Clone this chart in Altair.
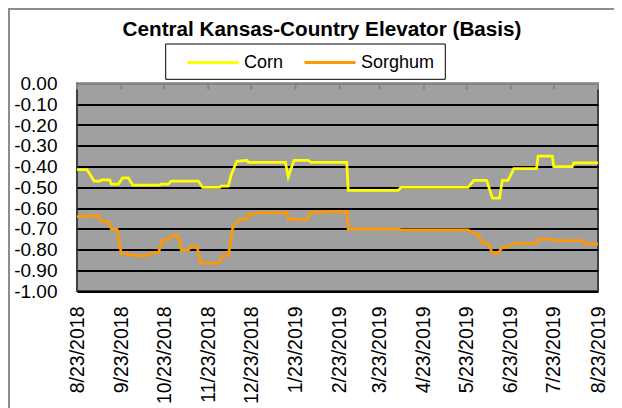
import altair as alt
import pandas as pd

# ---- data ----
corn_dates = [
    "2018-08-23", "2018-08-30", "2018-09-04", "2018-09-08", "2018-09-09", "2018-09-15",
    "2018-09-16", "2018-09-21", "2018-09-24", "2018-09-28", "2018-10-01", "2018-10-20",
    "2018-10-21", "2018-10-26", "2018-10-28", "2018-11-16", "2018-11-19", "2018-12-01",
    "2018-12-02", "2018-12-07", "2018-12-09", "2018-12-13", "2018-12-20", "2018-12-21",
    "2019-01-16", "2019-01-18", "2019-01-22", "2019-02-01", "2019-02-03", "2019-02-28",
    "2019-03-01", "2019-04-05", "2019-04-07", "2019-05-24", "2019-05-28", "2019-06-06",
    "2019-06-10", "2019-06-15", "2019-06-17", "2019-06-21", "2019-06-25", "2019-07-11",
    "2019-07-12", "2019-07-22", "2019-07-23", "2019-08-05", "2019-08-06", "2019-08-23",
]
corn_values = [
    -0.415, -0.415, -0.47, -0.47, -0.465, -0.465,
    -0.485, -0.485, -0.455, -0.455, -0.49, -0.49,
    -0.485, -0.485, -0.47, -0.47, -0.50, -0.50,
    -0.495, -0.495, -0.44, -0.375, -0.37, -0.38,
    -0.38, -0.45, -0.37, -0.37, -0.38, -0.38,
    -0.515, -0.515, -0.50, -0.50, -0.467, -0.467,
    -0.552, -0.552, -0.467, -0.467, -0.41, -0.41,
    -0.35, -0.35, -0.40, -0.40, -0.383, -0.383,
]

sorghum_dates = [
    "2018-08-23", "2018-08-31", "2018-09-05", "2018-09-07", "2018-09-09", "2018-09-14",
    "2018-09-16", "2018-09-20", "2018-09-23", "2018-09-27", "2018-09-28", "2018-09-30",
    "2018-10-01", "2018-10-11", "2018-10-14", "2018-10-19", "2018-10-22", "2018-10-26",
    "2018-10-28", "2018-11-02", "2018-11-04", "2018-11-09", "2018-11-11", "2018-11-15",
    "2018-11-18", "2018-11-30", "2018-12-03", "2018-12-07", "2018-12-10", "2018-12-13",
    "2018-12-15", "2018-12-20", "2018-12-21", "2018-12-25", "2018-12-27", "2019-01-17",
    "2019-01-18", "2019-01-31", "2019-02-03", "2019-02-28", "2019-03-01", "2019-04-05",
    "2019-04-07", "2019-05-24", "2019-05-28", "2019-05-31", "2019-06-03", "2019-06-07",
    "2019-06-10", "2019-06-14", "2019-06-17", "2019-06-21", "2019-06-25", "2019-07-11",
    "2019-07-12", "2019-07-23", "2019-07-24", "2019-08-13", "2019-08-14", "2019-08-23",
]
sorghum_values = [
    -0.641, -0.641, -0.635, -0.635, -0.665, -0.665,
    -0.70, -0.70, -0.818, -0.818, -0.825, -0.825,
    -0.83, -0.83, -0.815, -0.815, -0.754, -0.754,
    -0.733, -0.733, -0.802, -0.802, -0.785, -0.785,
    -0.866, -0.866, -0.83, -0.83, -0.70, -0.665,
    -0.655, -0.655, -0.63, -0.63, -0.622, -0.622,
    -0.655, -0.655, -0.62, -0.618, -0.702, -0.702,
    -0.705, -0.705, -0.725, -0.725, -0.77, -0.77,
    -0.818, -0.818, -0.789, -0.789, -0.77, -0.77,
    -0.751, -0.751, -0.757, -0.757, -0.773, -0.773,
]

series_names = ["Corn", "Sorghum"]
series_colors = ["#FFFF00", "#FF9900"]

tick_dates = [
    "2018-08-23", "2018-09-23", "2018-10-23", "2018-11-23", "2018-12-23", "2019-01-23",
    "2019-02-23", "2019-03-23", "2019-04-23", "2019-05-23", "2019-06-23", "2019-07-23",
    "2019-08-23",
]
y_ticks = [0.0, -0.1, -0.2, -0.3, -0.4, -0.5, -0.6, -0.7, -0.8, -0.9, -1.0]

title_text = "Central Kansas-Country Elevator (Basis)"

# ---- build tables ----
rows = []
for d, v in zip(corn_dates, corn_values):
    rows.append({"date": d + "T00:00:00", "value": v, "series": "Corn"})
for d, v in zip(sorghum_dates, sorghum_values):
    rows.append({"date": d + "T00:00:00", "value": v, "series": "Sorghum"})
df = pd.DataFrame(rows)
ticks_df = pd.DataFrame({"date": [d + "T00:00:00" for d in tick_dates]})

FONT = "Liberation Sans"
W, H = 521, 207.5

def dt(s):
    y, m, d = s.split("-")
    return alt.DateTime(year=int(y), month=int(m), date=int(d))

x_scale = alt.Scale(domain=[dt(tick_dates[0]), dt(tick_dates[-1])], nice=False)
y_scale = alt.Scale(domain=[-1, 0], nice=False, zero=False)

lines = alt.Chart(df).mark_line(strokeWidth=2.75, interpolate="linear").encode(
    x=alt.X(
        "date:T",
        scale=x_scale,
        title=None,
        axis=alt.Axis(
            values=[dt(s) for s in tick_dates],
            format="%-m/%-d/%Y",
            labelAngle=270,
            labelFontSize=19.5,
            labelFont=FONT,
            labelColor="black",
            labelPadding=15,
            labelFlush=False,
            labelOverlap=False,
            labelBound=False,
            ticks=False,
            domain=False,
            grid=False,
        ),
    ),
    y=alt.Y(
        "value:Q",
        scale=y_scale,
        title=None,
        axis=alt.Axis(
            values=y_ticks,
            format=".2f",
            labelExpr="replace(datum.label, '\u2212', '-')",
            labelFontSize=19,
            labelFont=FONT,
            labelColor="black",
            labelPadding=20,
            ticks=False,
            domain=False,
            grid=True,
            gridColor={"condition": {"test": "datum.value === 0", "value": "#858585"}, "value": "#000000"},
            gridWidth=2,
            gridOpacity=1,
        ),
    ),
    color=alt.Color(
        "series:N",
        scale=alt.Scale(domain=series_names, range=series_colors),
        legend=alt.Legend(
            title=None,
            orient="none",
            legendX=109,
            legendY=-30,
            direction="horizontal",
            symbolType="stroke",
            symbolSize=2601,
            symbolStrokeWidth=3,
            clipHeight=18,
            labelFontSize=18,
            labelFont=FONT,
            labelColor="black",
            labelOffset=4,
            columnPadding=19,
            padding=0,
        ),
    ),
)

top_ticks = alt.Chart(ticks_df).mark_rule(color="#858585", strokeWidth=2).encode(
    x=alt.X("date:T", scale=x_scale),
    y=alt.value(0),
    y2=alt.value(6),
)

box = alt.Chart(pd.DataFrame({"k": [0]})).mark_rect(
    fill="white", stroke="black", strokeWidth=1
).encode(
    x=alt.value(88.7), x2=alt.value(368.3), y=alt.value(-39.5), y2=alt.value(-4.2)
)

frame = alt.Chart(pd.DataFrame({"k": [0]})).mark_rect(
    fill=None, stroke="#8c8c8c", strokeWidth=2
).encode(
    x=alt.value(-68), x2=alt.value(560), y=alt.value(-74.5), y2=alt.value(340)
)

title = alt.Chart(pd.DataFrame({"t": [title_text]})).mark_text(
    font=FONT, fontSize=20.7, fontWeight="bold", color="black",
    align="center", baseline="alphabetic",
).encode(
    text="t:N",
    x=alt.value(245),
    y=alt.value(-47.5),
)

chart = alt.layer(frame, box, title, lines, top_ticks).properties(
    width=W,
    height=H,
    padding={"left": 69, "top": 75.5, "right": 16, "bottom": 117},
    autosize=alt.AutoSizeParams(type="none"),
).configure_view(
    fill="#A0A0A0", stroke="#404040", strokeWidth=2
)

chart.save("out.html", embed_options={"renderer": "svg", "actions": False})
